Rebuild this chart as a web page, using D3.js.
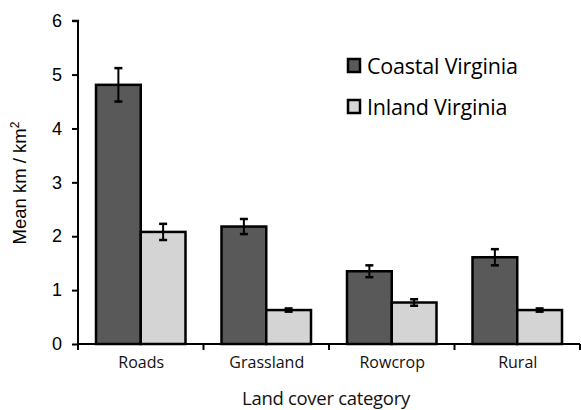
<!DOCTYPE html>
<html><head><meta charset="utf-8">
<script src="https://cdn.jsdelivr.net/npm/d3@7"></script>
<style>body{margin:0;background:#fff}svg{display:block}</style>
</head><body>
<svg id="c" width="581" height="410"></svg>
<script>
const categories = ["Roads", "Grassland", "Rowcrop", "Rural"];
const seriesNames = ["Coastal Virginia", "Inland Virginia"];
const coastal = [4.81, 2.18, 1.35, 1.61];
const coastalErr = [0.31, 0.14, 0.11, 0.15];
const inland = [2.08, 0.63, 0.77, 0.63];
const inlandErr = [0.15, 0.03, 0.06, 0.03];
const yTicks = [0, 1, 2, 3, 4, 5, 6];
const colors = ["#595959", "#d4d4d4"];

const svg = d3.select("#c");
const x0 = d3.scaleBand().domain(categories).range([78, 580]).paddingInner(0).paddingOuter(0);
const x1 = d3.scaleBand().domain(seriesNames).range([18, x0.bandwidth() - 18]).padding(0);
const y = d3.scaleLinear().domain([0, 6]).range([344, 20.7]);

const data = categories.map((c, i) => ({
  cat: c,
  vals: [
    {s: seriesNames[0], v: coastal[i], e: coastalErr[i], col: colors[0]},
    {s: seriesNames[1], v: inland[i], e: inlandErr[i], col: colors[1]}
  ]
}));

// bars
const g = svg.append("g");
const groups = g.selectAll("g.cat").data(data).join("g")
  .attr("transform", d => `translate(${x0(d.cat)},0)`);
groups.selectAll("rect").data(d => d.vals).join("rect")
  .attr("x", d => x1(d.s))
  .attr("y", d => y(d.v))
  .attr("width", x1.bandwidth())
  .attr("height", d => y(0) - y(d.v))
  .attr("fill", d => d.col)
  .attr("stroke", "#000")
  .attr("stroke-width", 2.5);

// error bars
const eb = groups.selectAll("g.err").data(d => d.vals).join("g");
eb.append("line")
  .attr("x1", d => x1(d.s) + x1.bandwidth() / 2)
  .attr("x2", d => x1(d.s) + x1.bandwidth() / 2)
  .attr("y1", d => y(d.v + d.e))
  .attr("y2", d => y(d.v - d.e))
  .attr("stroke", "#000").attr("stroke-width", 2);
[1, -1].forEach(sg => {
  eb.append("line")
    .attr("x1", d => x1(d.s) + x1.bandwidth() / 2 - 4)
    .attr("x2", d => x1(d.s) + x1.bandwidth() / 2 + 4)
    .attr("y1", d => y(d.v + sg * d.e))
    .attr("y2", d => y(d.v + sg * d.e))
    .attr("stroke", "#000").attr("stroke-width", 2.5);
});

// y axis
const yAxis = d3.axisLeft(y).tickValues(yTicks).tickSize(6).tickPadding(10).tickFormat(d3.format("d"));
const ya = svg.append("g").attr("transform", "translate(78,0)").call(yAxis);
ya.select(".domain").attr("stroke", "#000").attr("stroke-width", 2).attr("d", `M-6,${y(6)}H0V${y(0)}`);
ya.selectAll(".tick line").attr("stroke", "#000").attr("stroke-width", 2);
ya.selectAll(".tick text").attr("font-family", "Liberation Sans, Arial, sans-serif").attr("font-size", 18).attr("fill", "#000");

// x axis
const xa = svg.append("g").attr("transform", `translate(0,${y(0)})`);
xa.append("line").attr("x1", 77).attr("x2", 580).attr("stroke", "#000").attr("stroke-width", 2);
const bounds = categories.map(c => x0(c)).concat([x0.range()[1]]);
xa.selectAll("line.tk").data(bounds).join("line").attr("class", "tk")
  .attr("x1", d => d).attr("x2", d => d).attr("y1", 0).attr("y2", 6)
  .attr("stroke", "#000").attr("stroke-width", 2);
xa.selectAll("text").data(categories).join("text")
  .attr("x", d => x0(d) + x0.bandwidth() / 2 + 0.5)
  .attr("y", 24)
  .attr("text-anchor", "middle")
  .attr("font-family", "Open Sans, sans-serif")
  .attr("font-size", 16)
  .attr("fill", "#111")
  .text(d => d);

// axis titles
svg.append("text")
  .attr("x", 326).attr("y", 405)
  .attr("text-anchor", "middle")
  .attr("font-family", "Open Sans, sans-serif")
  .attr("font-size", 18.5)
  .attr("letter-spacing", -0.3)
  .attr("fill", "#111")
  .text("Land cover category");

const yt = svg.append("text")
  .attr("transform", `translate(26,${183}) rotate(-90)`)
  .attr("text-anchor", "middle")
  .attr("font-family", "Liberation Sans, Arial, sans-serif")
  .attr("font-size", 18.5)
  .attr("fill", "#000");
yt.append("tspan").text("Mean km / km");
yt.append("tspan").attr("dy", -7).attr("font-size", 12).text("2");

// legend
const leg = svg.append("g");
seriesNames.forEach((s, i) => {
  const yy = 59 + i * 41;
  leg.append("rect").attr("x", 348).attr("y", yy).attr("width", 12).attr("height", 13)
    .attr("fill", colors[i]).attr("stroke", "#000").attr("stroke-width", 2.5);
  leg.append("text").attr("x", 367).attr("y", yy + 15)
    .attr("font-family", "Open Sans, sans-serif")
    .attr("font-size", 21.5)
    .attr("letter-spacing", -0.2)
    .attr("fill", "#000")
    .text(s);
});
</script>
</body></html>
